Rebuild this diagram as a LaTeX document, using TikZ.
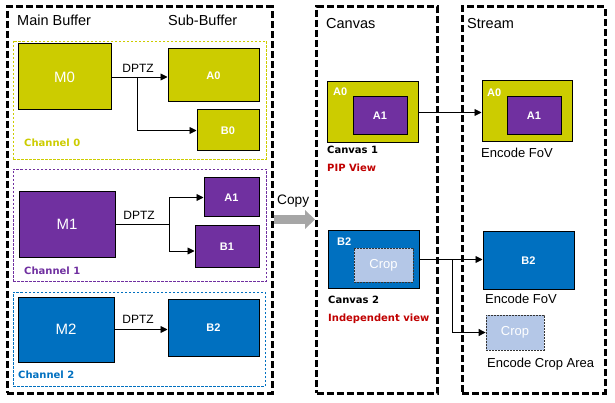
\documentclass[tikz,border=0pt]{standalone}
\usepackage{fontspec}
\setmainfont{Liberation Sans}
\newfontfamily\tagfont{DejaVu Sans}
\usetikzlibrary{arrows.meta,positioning}

\definecolor{chyel}{RGB}{204,204,0}
\definecolor{chpur}{RGB}{112,48,160}
\definecolor{chblu}{RGB}{0,112,192}
\definecolor{cropblu}{RGB}{180,199,231}
\definecolor{viewred}{RGB}{192,0,0}
\definecolor{copygray}{RGB}{166,166,166}

\tikzset{
  frame/.style={draw, line width=3pt, dash pattern=on 7pt off 3pt},
  chan/.style={draw=#1, line width=0.8pt, dash pattern=on 2.5pt off 1.5pt},
  buf/.style={draw, line width=1pt, fill=#1, text=white, font=\fontsize{15}{15}\selectfont},
  sub/.style={draw, line width=1pt, fill=#1, text=white, font=\bfseries\fontsize{11}{11}\selectfont},
  crop/.style={draw=black!80, line width=0.8pt, dash pattern=on 2pt off 1pt, fill=cropblu, text=white, font=\fontsize{13}{13}\selectfont},
  tag/.style={anchor=base west, inner sep=0pt, text=white, font=\bfseries\fontsize{11}{11}\selectfont},
  head/.style={anchor=base west, inner sep=0pt, font=\fontsize{14.5}{15}\selectfont},
  dptz/.style={anchor=base, inner sep=0pt, font=\fontsize{12}{12}\selectfont},
  cap/.style={anchor=base west, inner sep=0pt, text=#1, font=\tagfont\bfseries\fontsize{10}{10}\selectfont},
  enc/.style={anchor=base west, inner sep=0pt, font=\fontsize{13}{13}\selectfont},
  link/.style={-{Triangle[length=7pt,width=7pt]}, line width=0.9pt},
  copyarrow/.style={draw=copygray, line width=9pt, -{Triangle[length=10pt,width=19pt,line width=0pt]}},
}

\begin{document}
\begin{tikzpicture}[x=1pt, y=-1pt]
  \useasboundingbox (0,0) rectangle (615,403);

  % Frames and headings
  \node[frame, minimum width=265pt, minimum height=386pt] (main) at (139.5,200) {};
  \node[frame, minimum width=120.5pt, minimum height=386pt] (canvas) at (376.75,200) {};
  \node[frame, minimum width=143pt, minimum height=386pt] (stream) at (533.5,200) {};
  \node[head] (hmain) at (17,26) {Main Buffer};
  \node[head] (hsub) at (168,26) {Sub-Buffer};
  \node[head] (hcanvas) at (326,29) {Canvas};
  \node[head] (hstream) at (467,29) {Stream};

  % Channel 0
  \node[chan=chyel, minimum width=253pt, minimum height=118pt] (ch0) at (139.5,100) {};
  \node[buf=chyel, minimum width=93pt, minimum height=66pt] (m0) at (64.5,77) {M0};
  \node[sub=chyel, minimum width=91pt, minimum height=53pt] (a0) at (213.5,75.5) {A0};
  \node[sub=chyel, minimum width=62pt, minimum height=41pt] (b0) at (228,130.5) {B0};
  \node[dptz] (d0) at (138,73) {DPTZ};
  \node[cap=chyel] (l0) at (24,147) {Channel 0};
  \coordinate (j0) at (137,77);
  \draw[link] (m0.east) -- (m0.east -| a0.west);
  \draw[link] (j0) |- (b0.west);

  % Channel 1
  \node[chan=chpur, minimum width=253pt, minimum height=112pt] (ch1) at (139.5,225) {};
  \node[buf=chpur, minimum width=96pt, minimum height=65pt] (m1) at (67,224.5) {M1};
  \node[sub=chpur, minimum width=55pt, minimum height=39pt] (a1) at (231.5,197.5) {A1};
  \node[sub=chpur, minimum width=64pt, minimum height=41pt] (b1) at (227,246.5) {B1};
  \node[dptz] (d1) at (139,220) {DPTZ};
  \node[cap=chpur] (l1) at (24,274) {Channel 1};
  \coordinate (j1) at (169,224.5);
  \draw[line width=0.9pt] (m1.east) -- (j1);
  \draw[link] (j1) |- (a1.west);
  \draw[link] (j1) |- ([yshift=-4.5pt]b1.west);

  % Channel 2
  \node[chan=chblu, minimum width=252pt, minimum height=94pt] (ch2) at (139,339) {};
  \node[buf=chblu, minimum width=96pt, minimum height=65pt] (m2) at (66,329.5) {M2};
  \node[sub=chblu, minimum width=91pt, minimum height=57pt] (b2) at (213.5,327.5) {B2};
  \node[dptz] (d2) at (138,323) {DPTZ};
  \node[cap=chblu] (l2) at (18,378) {Channel 2};
  \draw[link] (m2.east) -- (m2.east -| b2.west);

  % Copy
  \coordinate (cp) at (0,219.5);
  \draw[copyarrow] (main.east |- cp) -- (canvas.west |- cp);
  \node[head, font=\fontsize{13.7}{14}\selectfont] (copy) at (277,205) {Copy};

  % Canvas 1 and its stream
  \node[sub=chyel, minimum width=91pt, minimum height=61pt] (ca0) at (372.5,112.5) {};
  \node[sub=chpur, minimum width=54pt, minimum height=38pt] (ca1) at (380,116) {A1};
  \node[tag] (ta0) at (333,96) {A0};
  \node[cap=black] (cn1) at (327,154) {Canvas 1};
  \node[cap=viewred] (pip) at (327,172) {PIP View};
  \node[sub=chyel, minimum width=90pt, minimum height=61pt] (sa0) at (527,111.5) {};
  \node[sub=chpur, minimum width=54pt, minimum height=38pt] (sa1) at (534,116) {A1};
  \node[tag] (tsa0) at (487,97) {A0};
  \node[enc] (fov1) at (481,158) {Encode FoV};
  \draw[link] (ca0.east) -- (ca0.east -| sa0.west);

  % Canvas 2 and its stream
  \node[sub=chblu, minimum width=91pt, minimum height=57pt] (cb2) at (373.5,259.5) {};
  \node[crop, minimum width=59pt, minimum height=34pt] (ccrop) at (383.5,265) {Crop};
  \node[tag] (tb2) at (337,246) {B2};
  \node[cap=black] (cn2) at (328,303) {Canvas 2};
  \node[cap=viewred] (indep) at (328,321) {Independent view};
  \node[sub=chblu, minimum width=91pt, minimum height=57pt] (sb2) at (528.5,260.5) {B2};
  \node[enc] (fov2) at (485,303) {Encode FoV};
  \node[crop, minimum width=58pt, minimum height=35pt] (scrop) at (515,332.5) {Crop};
  \node[enc] (area) at (487,367) {Encode Crop Area};
  \coordinate (j2) at (452,259.5);
  \draw[link] (cb2.east) -- (cb2.east -| sb2.west);
  \draw[link] (j2) |- (scrop.west);
\end{tikzpicture}
\end{document}
